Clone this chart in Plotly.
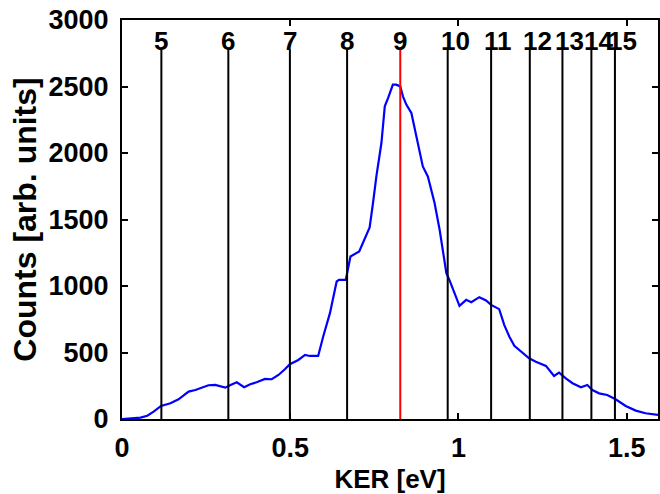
import plotly.graph_objects as go

# Spectrum (KER in eV, counts)
ker = [0, 0.02, 0.04, 0.055, 0.075, 0.094, 0.116, 0.144, 0.168, 0.198, 0.218, 0.233, 0.257, 0.277,
       0.292, 0.307, 0.321, 0.341, 0.363, 0.381, 0.4, 0.425, 0.445, 0.465, 0.484, 0.499, 0.524,
       0.544, 0.558, 0.583, 0.598, 0.618, 0.638, 0.645, 0.665, 0.672, 0.679, 0.705, 0.721, 0.736,
       0.746, 0.756, 0.771, 0.781, 0.791, 0.805, 0.815, 0.827, 0.835, 0.845, 0.86, 0.87, 0.884,
       0.894, 0.909, 0.919, 0.929, 0.944, 0.949, 0.964, 0.973, 0.988, 1.003, 1.023, 1.038, 1.062,
       1.082, 1.097, 1.121, 1.136, 1.151, 1.166, 1.181, 1.21, 1.23, 1.26, 1.284, 1.299, 1.319,
       1.339, 1.364, 1.383, 1.398, 1.418, 1.442, 1.467, 1.497, 1.527, 1.556, 1.59, 1.6]
counts = [0, 2, 5, 10, 25, 55, 98, 118, 148, 206, 218, 231, 254, 256,
          248, 236, 254, 276, 239, 261, 276, 301, 299, 331, 374, 412, 444,
          482, 474, 474, 620, 796, 1034, 1046, 1046, 1147, 1222, 1260, 1347, 1440,
          1624, 1824, 2075, 2351, 2414, 2514, 2514, 2501, 2426, 2364, 2301, 2176, 2000,
          1899, 1824, 1724, 1624, 1423, 1347, 1097, 1046, 946, 851, 896, 878, 916,
          891, 858, 826, 708, 620, 550, 519, 457, 431, 399, 324, 349, 306,
          269, 239, 256, 218, 193, 181, 148, 98, 63, 43, 30, 28]

# Marker lines (vibrational levels)
level_labels = ["5", "6", "7", "8", "9", "10", "11", "12", "13", "14", "15"]
level_ker = [0.117, 0.316, 0.499, 0.669, 0.827, 0.968, 1.097, 1.212, 1.309, 1.395, 1.465]
highlight_level = "9"
line_top = 2780
label_y = 2840

x_ticks = [0, 0.5, 1, 1.5]
x_tick_text = ["0", "0.5", "1", "1.5"]
y_ticks = [0, 500, 1000, 1500, 2000, 2500, 3000]

FONT = "Liberation Sans, Arial, sans-serif"

fig = go.Figure()
fig.add_trace(go.Scatter(x=ker, y=counts, mode="lines",
                         line=dict(color="#0000FF", width=2.2), showlegend=False))

shapes = []
annotations = []
for lab, xv in zip(level_labels, level_ker):
    col = "#FF0000" if lab == highlight_level else "black"
    shapes.append(dict(type="line", xref="x", yref="y", x0=xv, x1=xv, y0=0, y1=line_top,
                       line=dict(color=col, width=2), layer="above"))
    annotations.append(dict(x=xv, y=label_y, xref="x", yref="y", text=lab, showarrow=False,
                            xanchor="left", yanchor="middle", xshift=-9,
                            font=dict(family=FONT, size=26, color="black", weight="bold")))

fig.update_layout(
    width=660, height=494,
    margin=dict(l=122, r=0, t=20, b=75),
    paper_bgcolor="white", plot_bgcolor="white",
    shapes=shapes, annotations=annotations,
    font=dict(family=FONT, color="black"),
)
fig.update_xaxes(range=[0, 1.593], tickvals=x_ticks, ticktext=x_tick_text,
                 ticks="inside", ticklen=6, tickwidth=2, tickcolor="black",
                 showline=True, linewidth=2, linecolor="black", mirror="allticks",
                 showgrid=False, zeroline=False,
                 tickfont=dict(family=FONT, size=27, weight="bold"),
                 ticklabelstandoff=4,
                 title=dict(text="KER [eV]", font=dict(family=FONT, size=26, weight="bold"), standoff=8))
fig.update_yaxes(range=[0, 3000], tickvals=y_ticks,
                 ticks="inside", ticklen=6, tickwidth=2, tickcolor="black",
                 showline=True, linewidth=2, linecolor="black", mirror="allticks",
                 showgrid=False, zeroline=False,
                 tickfont=dict(family=FONT, size=27, weight="bold"),
                 ticklabelstandoff=6,
                 title=dict(text="Counts [arb. units]", font=dict(family=FONT, size=32, weight="bold"), standoff=2))

fig.write_html("out.html")
